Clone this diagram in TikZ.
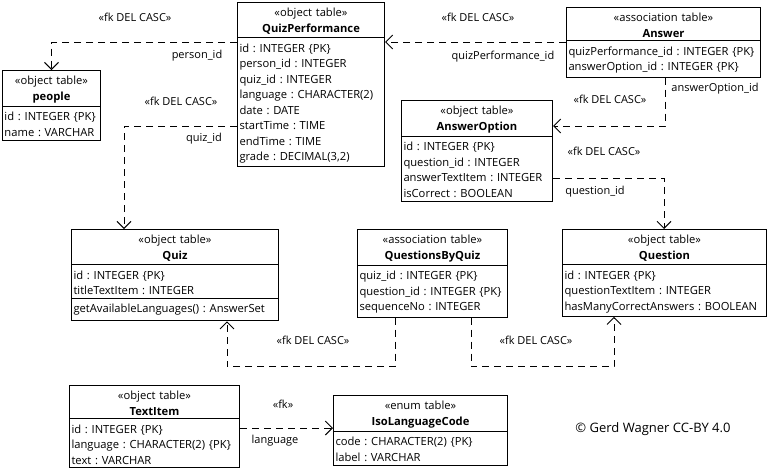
\documentclass[tikz,border=0pt]{standalone}
\usepackage{fontspec}
\setmainfont{Open Sans}
\usepackage{tikz}
\usetikzlibrary{arrows.meta,shapes.multipart}
\tikzset{
  tablebox/.style={rectangle split, rectangle split parts=2, draw, line width=1pt, anchor=north west,
                   inner xsep=2pt, inner ysep=3pt, font=\fontsize{11.2}{15.5}\selectfont,
                   execute at begin node=\frenchspacing\strut},
  fk/.style={->, line width=1pt, dash pattern=on 7pt off 5pt, >={Straight Barb[length=7pt,width=14pt]}},
  fklabel/.style={font=\fontsize{11}{14}\selectfont, inner sep=0pt},
}

\begin{document}
\begin{tikzpicture}[x=1pt, y=-1pt]
\useasboundingbox (0,0) rectangle (768,472);
%Nodes
\node[tablebox, text width=94pt] (people) at (2,70) {\centering «object table»\\\textbf{people}\par
  \nodepart{two}id : INTEGER \{PK\}\\name : VARCHAR};
\node[tablebox, text width=143pt] (qp) at (237,2) {\centering «object table»\\\textbf{QuizPerformance}\par
  \nodepart{two}id : INTEGER \{PK\}\\person\_id : INTEGER\\quiz\_id : INTEGER\\language : CHARACTER(2)\\date : DATE\\startTime : TIME\\endTime : TIME\\grade : DECIMAL(3,2)};
\node[tablebox, text width=190pt] (answer) at (566,7) {\centering «association table»\\\textbf{Answer}\par
  \nodepart{two}quizPerformance\_id : INTEGER \{PK\}\\answerOption\_id : INTEGER \{PK\}};
\node[tablebox, text width=147pt] (ansopt) at (401,100) {\centering «object table»\\\textbf{AnswerOption}\par
  \nodepart{two}id : INTEGER \{PK\}\\question\_id : INTEGER\\answerTextItem : INTEGER\\isCorrect : BOOLEAN};
\node[tablebox, rectangle split parts=3, text width=203pt] (quiz) at (71,229) {\centering «object table»\\\textbf{Quiz}\par
  \nodepart{two}id : INTEGER \{PK\}\\titleTextItem : INTEGER
  \nodepart{three}getAvailableLanguages() : AnswerSet};
\node[tablebox, text width=146pt] (qbq) at (357,229) {\centering «association table»\\\textbf{QuestionsByQuiz}\par
  \nodepart{two}quiz\_id : INTEGER \{PK\}\\question\_id : INTEGER \{PK\}\\sequenceNo : INTEGER};
\node[tablebox, text width=200pt] (question) at (562,229) {\centering «object table»\\\textbf{Question}\par
  \nodepart{two}id : INTEGER \{PK\}\\questionTextItem : INTEGER\\hasManyCorrectAnswers : BOOLEAN};
\node[tablebox, text width=166pt] (textitem) at (69,385) {\centering «object table»\\\textbf{TextItem}\par
  \nodepart{two}id : INTEGER \{PK\}\\language : CHARACTER(2) \{PK\}\\text : VARCHAR};
\node[tablebox, text width=170pt] (iso) at (333,395) {\centering «enum table»\\\textbf{IsoLanguageCode}\par
  \nodepart{two}code : CHARACTER(2) \{PK\}\\label : VARCHAR};

%Labels
\node[fklabel] (fk1) at (135,17) {«fk DEL CASC»};
\node[fklabel] (col1) at (197,56) {person\_id};
\node[fklabel] (fk2) at (181,101) {«fk DEL CASC»};
\node[fklabel] (col2) at (204,139) {quiz\_id};
\node[fklabel] (fk3) at (478,17) {«fk DEL CASC»};
\node[fklabel] (col3) at (503,57) {quizPerformance\_id};
\node[fklabel] (fk4) at (610,99) {«fk DEL CASC»};
\node[fklabel] (col4) at (715,89) {answerOption\_id};
\node[fklabel] (fk5) at (604,151) {«fk DEL CASC»};
\node[fklabel] (col5) at (595,192) {question\_id};
\node[fklabel] (fk6) at (313,340) {«fk DEL CASC»};
\node[fklabel] (fk7) at (536,340) {«fk DEL CASC»};
\node[fklabel] (fk8) at (283,404) {«fk»};
\node[fklabel] (col8) at (275,441) {language};
\node[fklabel, font=\fontsize{13}{16}\selectfont] (credit) at (653,429) {© Gerd Wagner CC-BY 4.0};

%Lines
\draw[fk] ([yshift=-40pt]qp.north west) -| (people.north);
\draw[fk] ([yshift=-124pt]qp.north west) -| ([xshift=53pt]quiz.north west);
\draw[fk] ([yshift=-35pt]answer.north west) coordinate (a1) -- (a1 -| qp.east);
\draw[fk] ([xshift=99pt]answer.south west) |- ([yshift=-26pt]ansopt.north east);
\draw[fk] ([yshift=-78pt]ansopt.north east) -| ([xshift=102pt]question.north west);
\draw[fk] ([xshift=38pt]qbq.south west) -- ++(0,49) -| ([xshift=156pt]quiz.south west);
\draw[fk] ([xshift=114pt]qbq.south west) -- ++(0,49) -| ([xshift=52pt]question.south west);
\draw[fk] ([yshift=-43pt]textitem.north east) coordinate (t1) -- (t1 -| iso.west);
\end{tikzpicture}
\end{document}
